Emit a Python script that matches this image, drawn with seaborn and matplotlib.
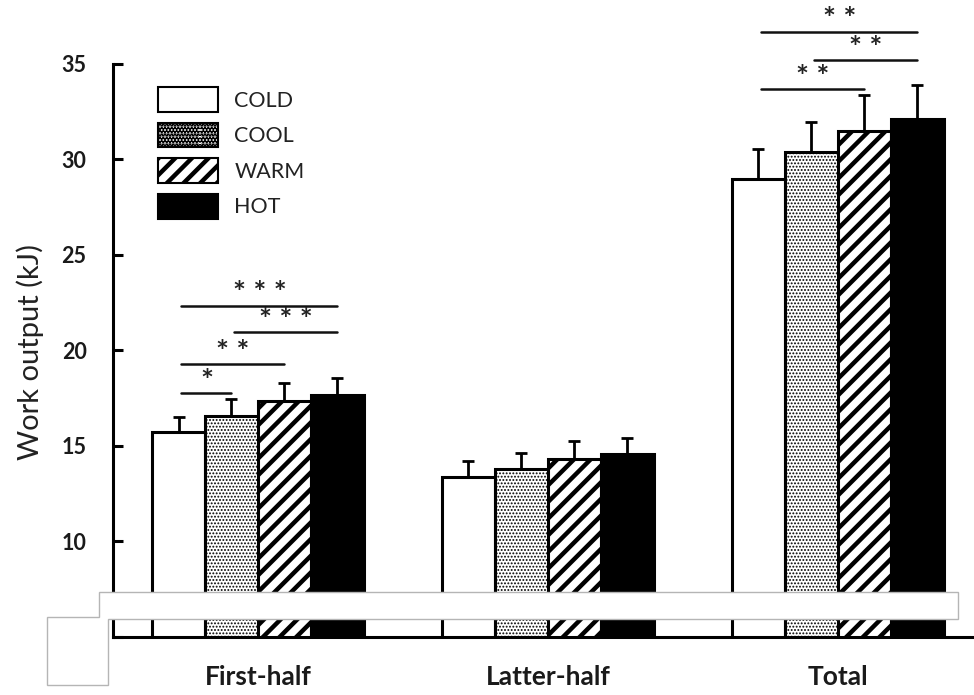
import numpy as np
import pandas as pd
import matplotlib
matplotlib.use('Agg')
import matplotlib.pyplot as plt
import matplotlib.patches as mpatches
import seaborn as sns

# values
phases = ['First-half', 'Latter-half', 'Total']
conditions = ['COLD', 'COOL', 'WARM', 'HOT']
first_half_mean = [15.75, 16.55, 17.35, 17.65]
first_half_sd = [0.75, 0.9, 0.95, 0.9]
latter_half_mean = [13.4, 13.8, 14.3, 14.6]
latter_half_sd = [0.8, 0.85, 0.95, 0.8]
total_mean = [29.0, 30.4, 31.5, 32.1]
total_sd = [1.55, 1.55, 1.9, 1.8]

# significance brackets: phase, condition a, condition b, line height, stars
sig_phase = [0, 0, 0, 0, 2, 2, 2]
sig_a = [0, 0, 1, 0, 0, 1, 0]
sig_b = [1, 2, 3, 3, 2, 3, 3]
sig_y = [17.75, 19.3, 20.95, 22.35, 33.7, 35.2, 36.7]
sig_label = ['*', '* *', '* * *', '* * *', '* *', '* *', '* *']

rows = []
for ph, means, sds in zip(phases, [first_half_mean, latter_half_mean, total_mean],
                          [first_half_sd, latter_half_sd, total_sd]):
    for c, m, s in zip(conditions, means, sds):
        rows.append({'phase': ph, 'condition': c, 'work': m, 'sd': s})
df = pd.DataFrame(rows)

sns.set_style('ticks')
plt.rcParams['font.family'] = ['Lato', 'DejaVu Sans']
plt.rcParams['hatch.linewidth'] = 3.2

fig = plt.figure(figsize=(9.74, 6.95), dpi=100)
ax = fig.add_axes([113 / 974, 58 / 695, 861 / 974, 637 / 695])

colors = {'COLD': 'white', 'COOL': 'white', 'WARM': 'white', 'HOT': 'black'}
hatches = {'COLD': '', 'COOL': '.....', 'WARM': '//', 'HOT': ''}

sns.barplot(data=df, x='phase', y='work', hue='condition', order=phases,
            hue_order=conditions, palette=colors, saturation=1, width=0.73,
            errorbar=None, edgecolor='black', linewidth=2.2, legend=False, ax=ax)

centers = {}
for cont, cond in zip(ax.containers, conditions):
    for bar, ph in zip(cont, phases):
        bar.set_hatch(hatches[cond])
        if cond == 'COOL' and hasattr(bar, 'set_hatch_linewidth'):
            bar.set_hatch_linewidth(0.9)
        centers[(ph, cond)] = bar.get_x() + bar.get_width() / 2

xs = [centers[(p, c)] for p, c in zip(df['phase'], df['condition'])]
ax.errorbar(xs, df['work'], yerr=[np.zeros(len(df)), df['sd']], fmt='none',
            ecolor='black', elinewidth=2, capsize=4.5, capthick=2, zorder=3)

for p, a, b, y, lab in zip(sig_phase, sig_a, sig_b, sig_y, sig_label):
    x0 = centers[(phases[p], conditions[a])] + 0.01
    x1 = centers[(phases[p], conditions[b])]
    ax.plot([x0, x1], [y, y], color='#111111', lw=1.8, clip_on=False)
    ax.text((x0 + x1) / 2, y + 0.12, lab, ha='center', va='baseline',
            fontsize=22, fontweight='bold', color='#222222')

ax.set_xlim(-0.5, 2.47)
ax.set_ylim(5, 38.35)
ax.set_yticks([5, 10, 15, 20, 25, 30, 35])
ax.spines['left'].set_bounds(5, 35)
for s in ['top', 'right']:
    ax.spines[s].set_visible(False)
for s in ['left', 'bottom']:
    ax.spines[s].set_linewidth(2.2)
    ax.spines[s].set_color('black')
ax.tick_params(axis='y', direction='in', length=7, width=2.2, pad=19,
               labelsize=15.5, colors='black')
ax.tick_params(axis='x', length=0, pad=20, labelsize=19, colors='black')
for t in ax.get_yticklabels() + ax.get_xticklabels():
    t.set_fontweight('bold')
    t.set_color('#1a1a1a')
ax.set_xlabel('')
ax.set_ylabel('Work output (kJ)', fontsize=21, color='#222222')
ax.yaxis.set_label_coords(-0.08, 0.447)

handles = [mpatches.Patch(facecolor=colors[c], edgecolor='black', hatch=hatches[c],
                          linewidth=1.5, label=c) for c in conditions]
leg = ax.legend(handles=handles, loc='upper left', bbox_to_anchor=(158 / 974, 1 - 87 / 695),
                bbox_transform=fig.transFigure, frameon=False, fontsize=15.5,
                handlelength=2.8, handleheight=1.4, handletextpad=0.75,
                labelspacing=0.5, borderpad=0, borderaxespad=0)
for t in leg.get_texts():
    t.set_color('#222222')

# axis break mask
pts = np.array([[99, 592], [958, 592], [958, 619], [108, 619], [108, 685],
                [47, 685], [47, 617], [99, 617]], dtype=float)
pts[:, 0] /= 974
pts[:, 1] = 1 - pts[:, 1] / 695
fig.add_artist(mpatches.Polygon(pts, closed=True, facecolor='white', edgecolor='#b5b5b5',
                                linewidth=1, transform=fig.transFigure, zorder=10))

fig.savefig('out.png', dpi=100)
